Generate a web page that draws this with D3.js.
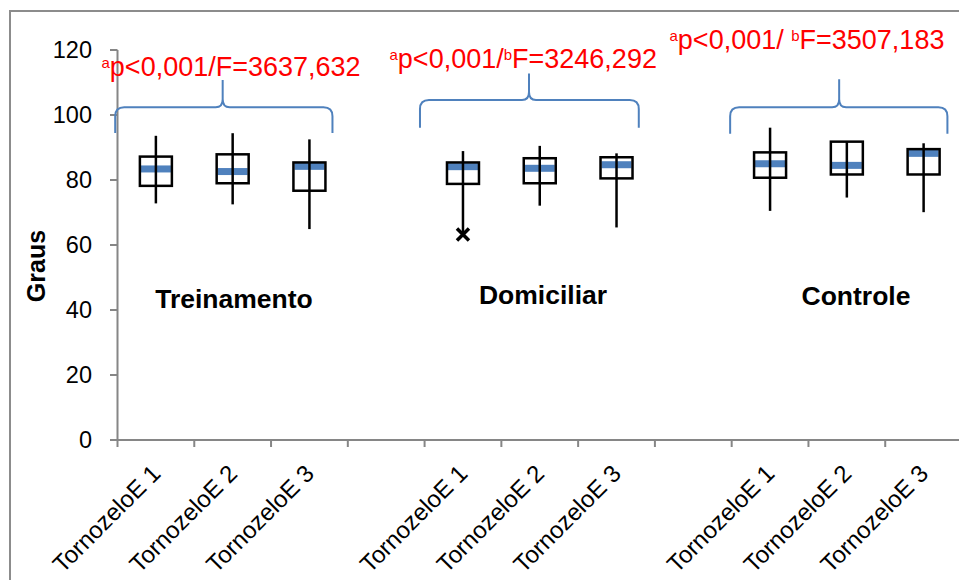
<!DOCTYPE html>
<html>
<head>
<meta charset="utf-8">
<script src="https://cdn.jsdelivr.net/npm/d3@7"></script>
<style>
  html, body { margin: 0; padding: 0; background: #fff; }
  svg { display: block; font-family: "Liberation Sans", Arial, sans-serif; }
</style>
</head>
<body>
<svg id="chart" width="959" height="580"></svg>
<script>
// Ankle range of motion (degrees) per group and measurement
const groups = ["Treinamento", "Domiciliar", "Controle"];
const measures = ["TornozeloE 1", "TornozeloE 2", "TornozeloE 3"];
const maxVals    = [93.6, 94.4, 92.5, 88.9, 90.5, 88.2, 96.1, 91.8, 91.3];
const q3Vals     = [87.2, 87.9, 85.4, 85.4, 86.7, 87.0, 88.5, 91.8, 89.5];
const medianVals = [83.4, 82.6, 84.2, 84.1, 83.6, 84.7, 85.0, 84.5, 88.2];
const q1Vals     = [78.2, 79.0, 76.7, 78.8, 79.0, 80.5, 80.7, 81.7, 81.7];
const minVals    = [72.8, 72.5, 64.9, 63.2, 72.1, 65.4, 70.5, 74.6, 70.1];
const outlierVals = [null, null, null, 63.2, null, null, null, null, null];
const yTicks = [0, 20, 40, 60, 80, 100, 120];
// Statistical test results per group: p-value part, F superscript, F value
const statP = ["p<0,001/", "p<0,001/", "p<0,001/ "];
const statFSup = ["", "b", "b"];
const statF = ["F=3637,632", "F=3246,292", "F=3507,183"];

// Category slots: each group has 3 measures followed by an empty gap slot
const slots = [];
groups.forEach((g, gi) => {
  measures.forEach((m, mi) => slots.push({ key: g + "|" + m, label: m, group: gi, idx: gi * 3 + mi }));
  if (gi < groups.length - 1) slots.push({ key: "gap" + gi, label: "", group: gi, idx: null });
});

const svg = d3.select("#chart");
const axisColor = "#868686";
const blue = "#4f81bd";
const red = "#ff0000";

// Outer chart frame
svg.append("rect")
  .attr("x", 10).attr("y", 11).attr("width", 1000).attr("height", 620)
  .attr("fill", "none").attr("stroke", "#8c8c8c").attr("stroke-width", 2);

const x = d3.scaleBand().domain(slots.map(d => d.key)).range([117.5, 962]).padding(0);
const y = d3.scaleLinear().domain([0, 120]).range([440, 50]);

// Y axis
const yAxis = svg.append("g");
yAxis.append("line")
  .attr("x1", 117.5).attr("x2", 117.5).attr("y1", y(120)).attr("y2", y(0))
  .attr("stroke", axisColor).attr("stroke-width", 2);
yAxis.selectAll("line.tick").data(yTicks).join("line")
  .attr("class", "tick")
  .attr("x1", 110).attr("x2", 117.5)
  .attr("y1", d => y(d)).attr("y2", d => y(d))
  .attr("stroke", axisColor).attr("stroke-width", 2);
yAxis.selectAll("text").data(yTicks).join("text")
  .attr("x", 92).attr("y", d => y(d)).attr("dy", "0.36em")
  .attr("text-anchor", "end").attr("font-size", 23.5).attr("fill", "#000")
  .text(d => d);

// X axis with ticks on category boundaries
const xAxis = svg.append("g");
xAxis.append("line")
  .attr("x1", 116.5).attr("x2", 962).attr("y1", y(0)).attr("y2", y(0))
  .attr("stroke", axisColor).attr("stroke-width", 2);
xAxis.selectAll("line.tick").data(slots).join("line")
  .attr("class", "tick")
  .attr("x1", d => x(d.key)).attr("x2", d => x(d.key))
  .attr("y1", y(0)).attr("y2", y(0) + 7)
  .attr("stroke", axisColor).attr("stroke-width", 2);
xAxis.selectAll("text").data(slots.filter(d => d.label)).join("text")
  .attr("transform", d => `translate(${x(d.key) + x.bandwidth() / 2 + 6},${y(0) + 35}) rotate(-45)`)
  .attr("text-anchor", "end").attr("font-size", 24).attr("fill", "#000")
  .text(d => d.label);

// Y axis title
svg.append("text")
  .attr("transform", "translate(45,266) rotate(-90)")
  .attr("text-anchor", "middle").attr("font-size", 25).attr("font-weight", "bold")
  .text("Graus");

// Box plots
const boxW = 32;
const boxes = slots.filter(d => d.idx !== null);
const bg = svg.append("g").selectAll("g").data(boxes).join("g")
  .attr("transform", d => `translate(${x(d.key) + x.bandwidth() / 2},0)`);
bg.append("rect")
  .attr("x", -boxW / 2).attr("width", boxW)
  .attr("y", d => y(q3Vals[d.idx])).attr("height", d => y(q1Vals[d.idx]) - y(q3Vals[d.idx]))
  .attr("fill", "#fff");
bg.append("rect")
  .attr("x", -boxW / 2 + 1).attr("width", boxW - 2)
  .attr("y", d => Math.max(y(q3Vals[d.idx]), y(medianVals[d.idx]) - 3.5))
  .attr("height", d => {
    const top = Math.max(y(q3Vals[d.idx]), y(medianVals[d.idx]) - 3.5);
    const bot = Math.min(y(q1Vals[d.idx]), y(medianVals[d.idx]) + 3.5);
    return bot - top;
  })
  .attr("fill", blue);
bg.append("line")
  .attr("x1", 0).attr("x2", 0)
  .attr("y1", d => y(maxVals[d.idx])).attr("y2", d => y(minVals[d.idx]))
  .attr("stroke", "#000").attr("stroke-width", 2.5);
bg.append("rect")
  .attr("x", -boxW / 2).attr("width", boxW)
  .attr("y", d => y(q3Vals[d.idx])).attr("height", d => y(q1Vals[d.idx]) - y(q3Vals[d.idx]))
  .attr("fill", "none").attr("stroke", "#000").attr("stroke-width", 2.5);

// Outlier markers (x)
const xs = 6;
bg.filter(d => outlierVals[d.idx] !== null).append("path")
  .attr("d", d => {
    const cy = y(outlierVals[d.idx]);
    return `M${-xs},${cy - xs}L${xs},${cy + xs}M${-xs},${cy + xs}L${xs},${cy - xs}`;
  })
  .attr("stroke", "#000").attr("stroke-width", 3.5).attr("fill", "none");

// Group labels
const groupLabelLayout = [
  { cx: 234, base: 308 },
  { cx: 543, base: 304 },
  { cx: 856, base: 305 }
];
svg.append("g").selectAll("text").data(groups).join("text")
  .attr("x", (d, i) => groupLabelLayout[i].cx).attr("y", (d, i) => groupLabelLayout[i].base)
  .attr("text-anchor", "middle").attr("font-size", 26.5).attr("font-weight", "bold")
  .text(d => d);

// Braces spanning each group (positions in slot units and axis values)
const braceLayout = [
  { x0: -0.03, x1: 2.80, xm: 1.37, yEnd: 94.5, yH: 102.4, yTop: 110.8 },
  { x0: 3.94, x1: 6.79, xm: 5.36, yEnd: 96.1, yH: 104.6, yTop: 112.8 },
  { x0: 7.98, x1: 10.81, xm: 9.40, yEnd: 94.2, yH: 102.4, yTop: 111.0 }
];
const slotX = d3.scaleLinear().domain([0, slots.length]).range(x.range());
svg.append("g").selectAll("path").data(braceLayout).join("path")
  .attr("d", b => {
    const X0 = slotX(b.x0), X1 = slotX(b.x1), XM = slotX(b.xm);
    const YE = y(b.yEnd), YH = y(b.yH), YT = y(b.yTop);
    const r = 9;
    return `M${X0},${YE}` +
      `L${X0},${YH + r}Q${X0},${YH} ${X0 + r},${YH}` +
      `L${XM - 7},${YH}Q${XM},${YH} ${XM},${YH - 8}L${XM},${YT}` +
      `M${XM},${YH - 8}Q${XM},${YH} ${XM + 7},${YH}` +
      `L${X1 - r},${YH}Q${X1},${YH} ${X1},${YH + r}L${X1},${YE}`;
  })
  .attr("fill", "none").attr("stroke", blue).attr("stroke-width", 2);

// Statistical annotations
const statLayout = [
  { x: 101.5, base: 76 },
  { x: 389.5, base: 67.5 },
  { x: 669.5, base: 48.5 }
];
const st = svg.append("g").selectAll("text").data(statF).join("text")
  .attr("x", (d, i) => statLayout[i].x).attr("y", (d, i) => statLayout[i].base)
  .attr("fill", red).attr("font-size", 27);
st.append("tspan").attr("font-size", 15).attr("dy", -8).text("a");
st.append("tspan").attr("dy", 8).text((d, i) => statP[i]);
st.each(function (d, i) {
  const t = d3.select(this);
  if (statFSup[i]) {
    t.append("tspan").attr("font-size", 15).attr("dy", -8).text(statFSup[i]);
    t.append("tspan").attr("dy", 8).text(d);
  } else {
    t.append("tspan").text(d);
  }
});
</script>
</body>
</html>
